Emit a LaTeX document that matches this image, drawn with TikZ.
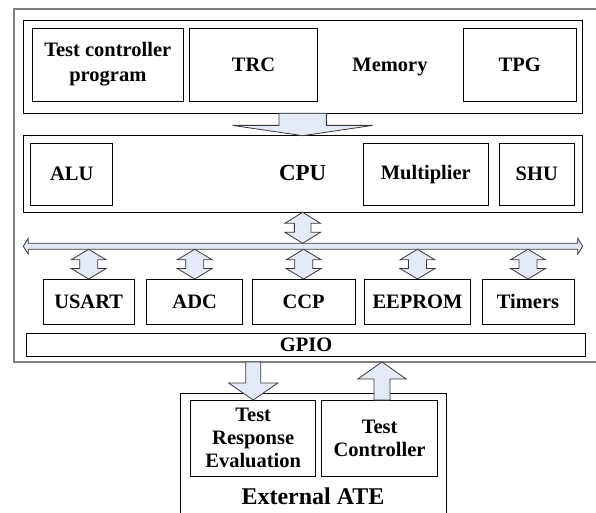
\documentclass[tikz,border=0pt]{standalone}
\usepackage{fontspec}
\setmainfont{Liberation Serif}
\usetikzlibrary{calc}
\definecolor{arrowfill}{HTML}{E4EBF6}
\definecolor{arrowline}{HTML}{3A3A3A}
\definecolor{outerline}{HTML}{808080}
\tikzset{
  box/.style={draw=black, line width=0.9pt, inner sep=0pt, outer sep=0pt, align=center,
    font=\bfseries\fontsize{20.5}{25}\selectfont},
  atebox/.style={box, font=\bfseries\fontsize{20.5}{23}\selectfont},
  outerbox/.style={draw=outerline, line width=1.6pt, inner sep=0pt, outer sep=0pt},
  blockarrow/.style={draw=arrowline, fill=arrowfill, line width=0.8pt, line join=miter},
  lbl/.style={inner sep=0pt, font=\bfseries\fontsize{20.5}{25}\selectfont},
}
% vertical double block arrow: #1 top point, #2 bottom point, #3 half head width, #4 head length, #5 half shaft width
\newcommand{\vdblarrow}[5]{%
  \draw[blockarrow] let \p1=(#1), \p2=(#2) in
    (\x1,\y1) -- (\x1+#3pt,\y1-#4pt) -- (\x1+#5pt,\y1-#4pt) -- (\x1+#5pt,\y2+#4pt)
    -- (\x1+#3pt,\y2+#4pt) -- (\x1,\y2) -- (\x1-#3pt,\y2+#4pt) -- (\x1-#5pt,\y2+#4pt)
    -- (\x1-#5pt,\y1-#4pt) -- (\x1-#3pt,\y1-#4pt) -- cycle;}
% downward single block arrow
\newcommand{\downarrowblk}[5]{%
  \draw[blockarrow] let \p1=(#1), \p2=(#2) in
    (\x1-#5pt,\y1) -- (\x1+#5pt,\y1) -- (\x1+#5pt,\y2+#4pt) -- (\x1+#3pt,\y2+#4pt)
    -- (\x1,\y2) -- (\x1-#3pt,\y2+#4pt) -- (\x1-#5pt,\y2+#4pt) -- cycle;}
% upward single block arrow (#1 tip, #2 tail)
\newcommand{\uparrowblk}[5]{%
  \draw[blockarrow] let \p1=(#1), \p2=(#2) in
    (\x1,\y1) -- (\x1+#3pt,\y1-#4pt) -- (\x1+#5pt,\y1-#4pt) -- (\x1+#5pt,\y2)
    -- (\x1-#5pt,\y2) -- (\x1-#5pt,\y1-#4pt) -- (\x1-#3pt,\y1-#4pt) -- cycle;}
\begin{document}
\begin{tikzpicture}[x=1pt,y=-1pt]
\useasboundingbox (0,0) rectangle (596,513);
\fill[white] (0,0) rectangle (596,513);

% outer chip box
\node[outerbox, minimum width=584pt, minimum height=353pt] (outer) at (306,185.5) {};

% memory
\node[box, minimum width=558.7pt, minimum height=93.3pt] (mem) at (302.65,66.65) {};
\node[box, minimum width=151pt, minimum height=73pt] (tcp) at (107.8,64.5) {Test controller\\program};
\node[box, minimum width=128.4pt, minimum height=73pt] (trc) at (253.5,64.5) {TRC};
\node[box, minimum width=113pt, minimum height=73pt] (tpg) at (519.8,64.5) {TPG};
\node[lbl] (memlbl) at (390,66.7) {Memory};

% CPU
\node[box, minimum width=558.7pt, minimum height=76.6pt] (cpu) at (302.65,174) {};
\node[box, minimum width=82pt, minimum height=61.7pt] (alu) at (71.7,174.15) {ALU};
\node[box, minimum width=125pt, minimum height=61.7pt] (mul) at (425.8,174.15) {Multiplier};
\node[box, minimum width=75pt, minimum height=61.7pt] (shu) at (536.8,174.15) {SHU};
\node[lbl, font=\bfseries\fontsize{23}{26}\selectfont] (cpulbl) at (302.7,173) {CPU};

% memory -> CPU arrow
\downarrowblk{mem.south}{cpu.north}{70}{10.3}{23.7}

% bus
\coordinate (busL) at (23.3,246.3);
\coordinate (busR) at (582.7,246.3);
\coordinate (bustop) at (0,243.3);
\coordinate (busbot) at (0,249.3);
\draw[blockarrow] let \p1=(busL), \p2=(busR) in
  (\x1,\y1) -- (\x1+5pt,\y1+8pt) -- (\x1+5pt,\y1+3pt) -- (\x2-5pt,\y1+3pt) -- (\x2-5pt,\y1+8pt)
  -- (\x2,\y1) -- (\x2-5pt,\y1-8pt) -- (\x2-5pt,\y1-3pt) -- (\x1+5pt,\y1-3pt) -- (\x1+5pt,\y1-8pt) -- cycle;

% CPU <-> bus
\vdblarrow{cpu.south}{cpu.south |- bustop}{17.8}{11}{8.3}

% peripherals
\node[box, minimum width=90.7pt, minimum height=45.3pt] (usart) at (88.65,301.65) {USART};
\node[box, minimum width=96pt, minimum height=45.3pt] (adc) at (194.7,301.65) {ADC};
\node[box, minimum width=102.7pt, minimum height=45.3pt] (ccp) at (303.65,301.65) {CCP};
\node[box, minimum width=106.4pt, minimum height=45.3pt] (eeprom) at (417.5,301.65) {EEPROM};
\node[box, minimum width=92pt, minimum height=45.3pt] (timers) at (528,301.65) {Timers};

\foreach \pname in {usart,adc,ccp,eeprom,timers}{
  \vdblarrow{\pname.north |- busbot}{\pname.north}{17.5}{10.5}{9}
}

% GPIO
\node[box, minimum width=558.8pt, minimum height=23.4pt] (gpio) at (306.1,345) {GPIO};

% External ATE
\node[box, minimum width=266pt, minimum height=140pt] (ate) at (313,463.3) {};
\node[atebox, minimum width=125pt, minimum height=76pt] (tre) at (253.2,438) {Test\\Response\\Evaluation};
\node[atebox, minimum width=115.8pt, minimum height=76pt] (tc) at (379.6,438) {Test\\Controller};
\node[lbl, font=\bfseries\fontsize{24}{28}\selectfont] (atelbl) at (313,496.7) {External ATE};

% GPIO <-> ATE arrows
\downarrowblk{tre.north |- outer.south}{tre.north}{24.6}{17}{7.5}
\uparrowblk{$(tc.north |- outer.south)+(2.4,0)$}{$(tc.north)+(2.4,0)$}{24.2}{17}{8}
\end{tikzpicture}
\end{document}
